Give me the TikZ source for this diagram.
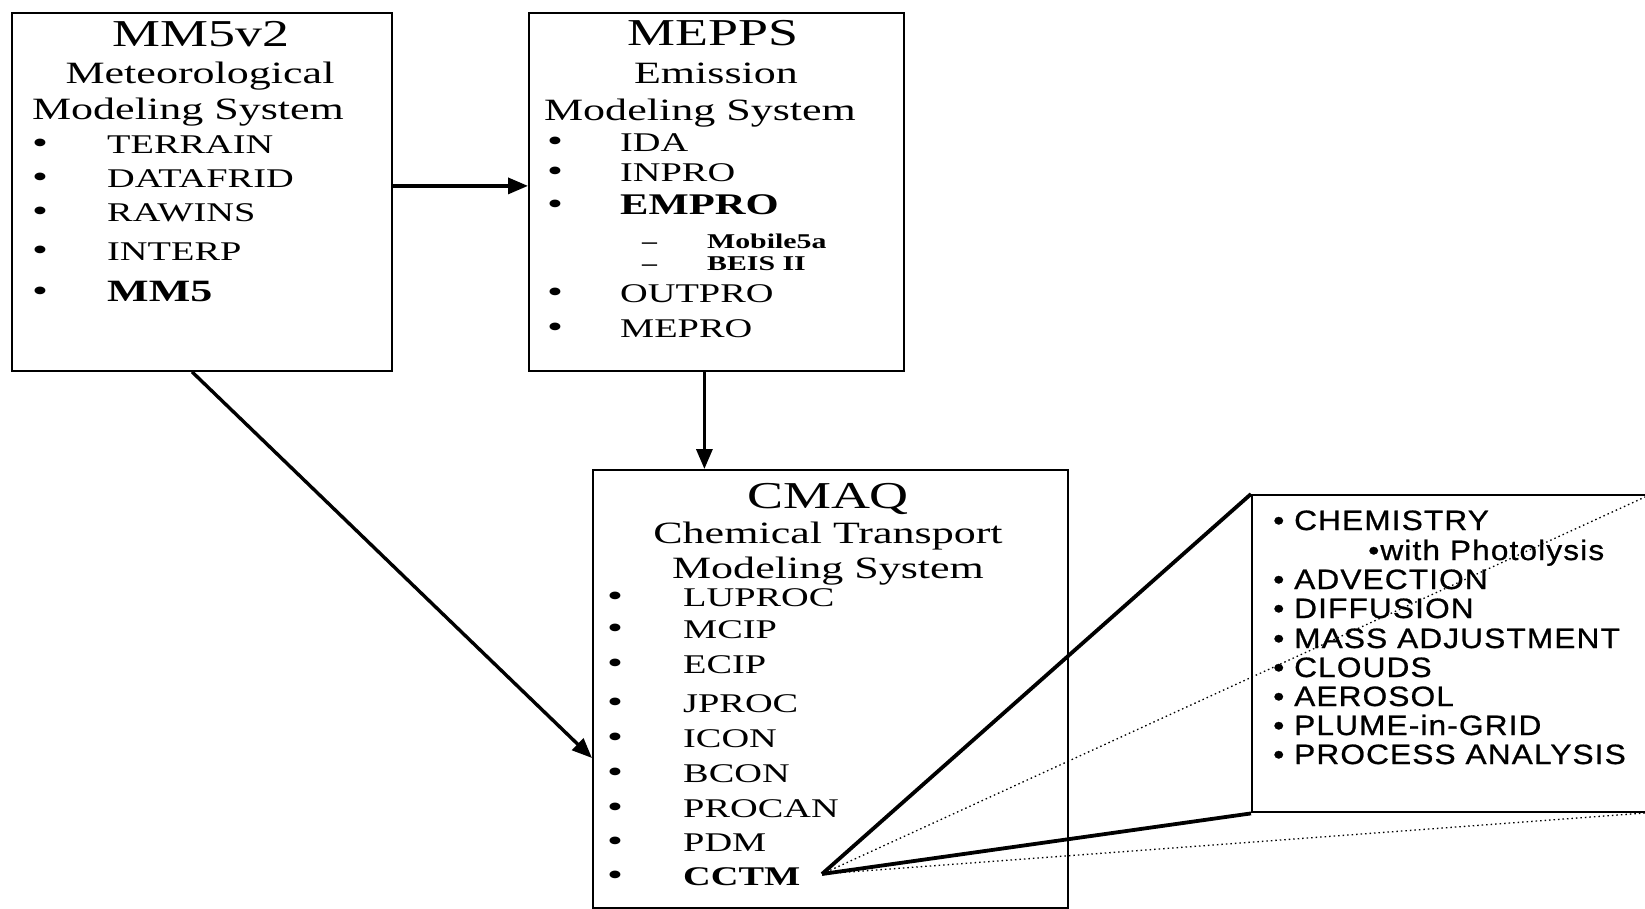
\documentclass[tikz,border=0pt]{standalone}
\usepackage{fontspec}
\setmainfont{Liberation Serif}
\newfontfamily\wserif[FakeStretch=1.42]{Liberation Serif}
\newfontfamily\wsans[FakeStretch=1.13,LetterSpace=4,FakeBold=0.8]{Liberation Sans}
\usetikzlibrary{arrows.meta,calc}
\newcommand\fsz[1]{\fontsize{#1}{#1}\selectfont}
\newcommand\bul[1]{\makebox[#1][l]{\fsz{32}•}}
\tikzset{
  box/.style={draw, line width=1.8pt, inner sep=0pt, anchor=north west},
  ttl/.style={inner sep=0pt, anchor=base, font=\wserif\fsz{38}},
  sub/.style={inner sep=0pt, anchor=base, font=\wserif\fsz{31}},
  itm/.style={inner sep=0pt, anchor=base west, font=\wserif\fsz{27}},
  subitm/.style={inner sep=0pt, anchor=base west, font=\wserif\bfseries\fsz{21}},
  zit/.style={inner sep=0pt, anchor=base west, font=\wsans\fsz{28}},
  flow/.style={line width=3.4pt, -{Triangle[length=20pt,width=16pt]}},
  zoomline/.style={line width=3.8pt},
  hidden/.style={line width=1.3pt, dash pattern=on 1.5pt off 3pt},
}
\begin{document}
\begin{tikzpicture}[x=1pt,y=-1pt]
\useasboundingbox (0,0) rectangle (1645,909);
\clip (0,0) rectangle (1645,909);
\fill[white] (0,0) rectangle (1645,909);

% boxes
\node[box, minimum width=380pt, minimum height=358pt] (mm5) at (11,12) {};
\node[box, minimum width=375pt, minimum height=358pt] (mepps) at (528,12) {};
\node[box, minimum width=475pt, minimum height=438pt] (cmaq) at (592,469) {};
\node[box, line width=2.4pt, minimum width=500pt, minimum height=317pt] (zbox) at (1251,494) {};

% MM5v2 box text
\node[ttl] (mm5t) at (201,47) {MM5v2};
\node[sub] (mm5s1) at (200,84) {Meteorological};
\node[sub] (mm5s2) at (188,120) {Modeling System};
\foreach \t/\y [count=\i] in {TERRAIN/154, DATAFRID/188, RAWINS/222, INTERP/260}
  \node[itm] (mm5i\i) at (32,\y) {\bul{75pt}\t};
\node[itm] (mm5i5) at (32,301) {\bul{75pt}{\bfseries\fsz{31}MM5}};

% MEPPS box text
\node[ttl] (mepst) at (713,46) {MEPPS};
\node[sub] (meps1) at (716,84) {Emission};
\node[sub] (meps2) at (700,121) {Modeling System};
\node[itm] (mepi1) at (547,152) {\bul{73pt}IDA};
\node[itm] (mepi2) at (547,182) {\bul{73pt}INPRO};
\node[itm] (mepi3) at (547,215) {\bul{73pt}{\bfseries\fsz{30}EMPRO}};
\node[subitm] (mepd1) at (642,248) {\makebox[65pt][l]{–}Mobile5a};
\node[subitm] (mepd2) at (642,270) {\makebox[65pt][l]{–}BEIS II};
\node[itm] (mepi4) at (547,302) {\bul{73pt}OUTPRO};
\node[itm] (mepi5) at (547,337) {\bul{73pt}MEPRO};

% CMAQ box text
\node[ttl] (cmaqt) at (828,508) {CMAQ};
\node[sub] (cmaqs1) at (828,543) {Chemical Transport};
\node[sub] (cmaqs2) at (828,578) {Modeling System};
\foreach \t/\y [count=\i] in {LUPROC/606, MCIP/638, ECIP/673, JPROC/712, ICON/747, BCON/782, PROCAN/817, PDM/851}
  \node[itm] (cmi\i) at (607,\y) {\bul{76pt}\t};
\node[itm] (cctm) at (607,885) {\bul{76pt}\textbf{CCTM}};

% zoom box text
\node[zit] (z1) at (1273,530) {• CHEMISTRY};
\node[zit] (z2) at (1368,560) {•with Photolysis};
\foreach \t/\y [count=\i from 3] in {ADVECTION/589, DIFFUSION/618, MASS ADJUSTMENT/648, CLOUDS/677, AEROSOL/706, PLUME-in-GRID/735, PROCESS ANALYSIS/764}
  \node[zit] (z\i) at (1273,\y) {• \t};

% connectors
\draw[flow] ($(mm5.east)+(0,-6)$) -- ($(mepps.west)+(0,-6)$);
\coordinate (m1) at ($(mepps.south)+(-12,0)$);
\draw[flow] (m1) -- (m1 |- cmaq.north);
\draw[flow] ($(mm5.south west)+(181,0)$) -- ($(cmaq.north west)+(0,289)$);

% zoom lines
\coordinate (apex) at (822,874);
\coordinate (ztr) at (1645,497);
\coordinate (zbr) at (1645,813);
\draw[zoomline] (apex) -- (zbox.north west);
\draw[zoomline] (apex) -- (zbox.south west);
\draw[hidden] (apex) -- (ztr);
\draw[hidden] (apex) -- (zbr);
\end{tikzpicture}
\end{document}
